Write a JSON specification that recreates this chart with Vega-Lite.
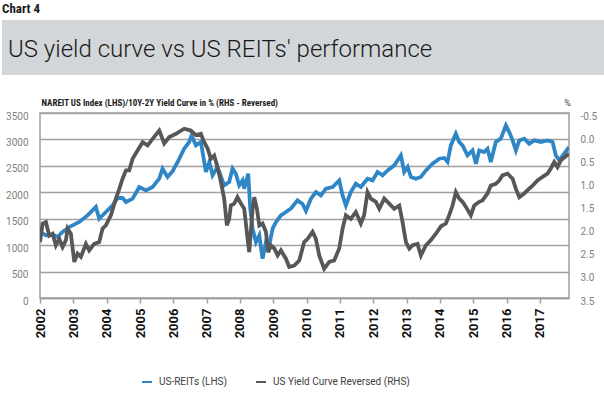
{
  "$schema": "https://vega.github.io/schema/vega-lite/v6.json",
  "padding": {"left": 2, "top": 3, "right": 0, "bottom": 0},
  "background": "white",
  "title": {"text": "Chart 4", "anchor": "start", "fontSize": 13, "fontWeight": "bold", "font": "Liberation Sans Narrow, Roboto Condensed, Roboto", "color": "#1a1a1a", "offset": 4},
  "spacing": 22,
  "datasets": {
    "reits": [
      {"date": "2002-01-01", "value": 1250}, {"date": "2002-03-07", "value": 1185}, {"date": "2002-05-19", "value": 1200}, {"date": "2002-07-12", "value": 1154},
      {"date": "2002-09-05", "value": 1250}, {"date": "2002-11-17", "value": 1343}, {"date": "2003-03-07", "value": 1438}, {"date": "2003-06-06", "value": 1563},
      {"date": "2003-09-05", "value": 1722}, {"date": "2003-10-12", "value": 1500}, {"date": "2003-12-24", "value": 1627}, {"date": "2004-03-07", "value": 1752},
      {"date": "2004-04-30", "value": 1892}, {"date": "2004-06-24", "value": 1892}, {"date": "2004-07-31", "value": 1816}, {"date": "2004-10-12", "value": 1879},
      {"date": "2004-12-24", "value": 2100}, {"date": "2005-03-07", "value": 2036}, {"date": "2005-05-19", "value": 2100}, {"date": "2005-07-31", "value": 2257},
      {"date": "2005-09-05", "value": 2446}, {"date": "2005-10-30", "value": 2289}, {"date": "2005-12-24", "value": 2400}, {"date": "2006-02-17", "value": 2573},
      {"date": "2006-04-30", "value": 2825}, {"date": "2006-06-24", "value": 2952}, {"date": "2006-07-20", "value": 3076}, {"date": "2006-09-05", "value": 2887},
      {"date": "2006-10-30", "value": 2952}, {"date": "2006-12-24", "value": 2384}, {"date": "2007-01-30", "value": 2573}, {"date": "2007-03-07", "value": 2320},
      {"date": "2007-04-30", "value": 2478}, {"date": "2007-07-12", "value": 2130}, {"date": "2007-09-05", "value": 2195}, {"date": "2007-10-12", "value": 2446},
      {"date": "2007-11-17", "value": 2352}, {"date": "2007-12-24", "value": 2130}, {"date": "2008-01-30", "value": 2225}, {"date": "2008-02-17", "value": 2068},
      {"date": "2008-04-01", "value": 2352}, {"date": "2008-04-23", "value": 1690}, {"date": "2008-05-19", "value": 1311}, {"date": "2008-06-24", "value": 1059},
      {"date": "2008-07-31", "value": 1185}, {"date": "2008-09-05", "value": 744}, {"date": "2008-10-12", "value": 1059}, {"date": "2008-11-17", "value": 996},
      {"date": "2008-12-24", "value": 1311}, {"date": "2009-01-30", "value": 1438}, {"date": "2009-03-25", "value": 1563}, {"date": "2009-05-19", "value": 1627},
      {"date": "2009-07-12", "value": 1690}, {"date": "2009-09-23", "value": 1847}, {"date": "2009-11-17", "value": 1780}, {"date": "2009-12-24", "value": 1650},
      {"date": "2010-02-17", "value": 1879}, {"date": "2010-04-12", "value": 2005}, {"date": "2010-06-06", "value": 1941}, {"date": "2010-07-31", "value": 2068},
      {"date": "2010-10-12", "value": 2100}, {"date": "2010-12-24", "value": 2225}, {"date": "2011-01-30", "value": 1941}, {"date": "2011-03-07", "value": 1752},
      {"date": "2011-04-30", "value": 2005}, {"date": "2011-06-24", "value": 2162}, {"date": "2011-08-18", "value": 2100}, {"date": "2011-10-30", "value": 2257},
      {"date": "2011-12-24", "value": 2225}, {"date": "2012-02-17", "value": 2384}, {"date": "2012-04-12", "value": 2320}, {"date": "2012-06-06", "value": 2414},
      {"date": "2012-08-18", "value": 2509}, {"date": "2012-10-30", "value": 2698}, {"date": "2012-12-05", "value": 2384}, {"date": "2013-01-12", "value": 2478},
      {"date": "2013-02-17", "value": 2289}, {"date": "2013-04-12", "value": 2257}, {"date": "2013-06-06", "value": 2289}, {"date": "2013-07-31", "value": 2414},
      {"date": "2013-10-12", "value": 2541}, {"date": "2013-12-24", "value": 2635}, {"date": "2014-02-17", "value": 2650}, {"date": "2014-03-25", "value": 2573},
      {"date": "2014-04-30", "value": 2887}, {"date": "2014-06-24", "value": 3108}, {"date": "2014-07-31", "value": 2952}, {"date": "2014-09-05", "value": 2887},
      {"date": "2014-10-30", "value": 2698}, {"date": "2014-12-24", "value": 2793}, {"date": "2015-01-30", "value": 2541}, {"date": "2015-03-07", "value": 2793},
      {"date": "2015-04-30", "value": 2762}, {"date": "2015-06-06", "value": 2825}, {"date": "2015-07-12", "value": 2573}, {"date": "2015-09-05", "value": 2952},
      {"date": "2015-10-30", "value": 3014}, {"date": "2015-12-24", "value": 3266}, {"date": "2016-01-30", "value": 3140}, {"date": "2016-03-07", "value": 2982},
      {"date": "2016-04-12", "value": 2793}, {"date": "2016-05-19", "value": 2982}, {"date": "2016-07-12", "value": 3014}, {"date": "2016-09-05", "value": 2919},
      {"date": "2016-10-30", "value": 2982}, {"date": "2017-01-12", "value": 2952}, {"date": "2017-03-25", "value": 2982}, {"date": "2017-05-19", "value": 2952},
      {"date": "2017-06-24", "value": 2698}, {"date": "2017-07-31", "value": 2604}, {"date": "2017-09-23", "value": 2730}, {"date": "2017-11-15", "value": 2857}
    ],
    "curve": [
      {"date": "2002-01-01", "spread": 2.29}, {"date": "2002-01-30", "spread": 1.89}, {"date": "2002-03-07", "spread": 1.86}, {"date": "2002-04-12", "spread": 2.15},
      {"date": "2002-05-19", "spread": 2.11}, {"date": "2002-06-24", "spread": 2.36}, {"date": "2002-07-31", "spread": 2.22}, {"date": "2002-09-05", "spread": 2.40},
      {"date": "2002-10-12", "spread": 2.25}, {"date": "2002-10-30", "spread": 2.00}, {"date": "2002-12-05", "spread": 2.11}, {"date": "2003-01-12", "spread": 2.72},
      {"date": "2003-02-17", "spread": 2.54}, {"date": "2003-03-25", "spread": 2.61}, {"date": "2003-05-19", "spread": 2.33}, {"date": "2003-06-24", "spread": 2.47},
      {"date": "2003-08-18", "spread": 2.33}, {"date": "2003-10-12", "spread": 2.29}, {"date": "2003-11-17", "spread": 2.00}, {"date": "2003-12-24", "spread": 1.93},
      {"date": "2004-02-17", "spread": 1.71}, {"date": "2004-04-12", "spread": 1.35}, {"date": "2004-05-19", "spread": 1.14}, {"date": "2004-06-24", "spread": 0.92},
      {"date": "2004-07-31", "spread": 0.74}, {"date": "2004-09-05", "spread": 0.74}, {"date": "2004-10-12", "spread": 0.49}, {"date": "2004-12-05", "spread": 0.31},
      {"date": "2005-01-30", "spread": 0.13}, {"date": "2005-03-25", "spread": 0.20}, {"date": "2005-05-19", "spread": 0.06}, {"date": "2005-07-31", "spread": -0.12},
      {"date": "2005-09-23", "spread": 0.16}, {"date": "2005-11-17", "spread": 0.02}, {"date": "2006-01-30", "spread": -0.05}, {"date": "2006-04-30", "spread": -0.16},
      {"date": "2006-07-12", "spread": -0.12}, {"date": "2006-09-05", "spread": -0.02}, {"date": "2006-10-30", "spread": -0.05}, {"date": "2006-12-05", "spread": 0.13},
      {"date": "2007-01-12", "spread": 0.27}, {"date": "2007-02-17", "spread": 0.49}, {"date": "2007-03-25", "spread": 0.42}, {"date": "2007-04-30", "spread": 0.67},
      {"date": "2007-06-06", "spread": 0.99}, {"date": "2007-07-12", "spread": 1.35}, {"date": "2007-08-11", "spread": 1.93}, {"date": "2007-09-05", "spread": 1.79},
      {"date": "2007-09-23", "spread": 1.50}, {"date": "2007-10-30", "spread": 1.46}, {"date": "2007-12-05", "spread": 1.32}, {"date": "2008-01-12", "spread": 1.46},
      {"date": "2008-02-17", "spread": 1.57}, {"date": "2008-03-25", "spread": 2.22}, {"date": "2008-04-12", "spread": 2.51}, {"date": "2008-05-19", "spread": 1.57},
      {"date": "2008-06-06", "spread": 1.32}, {"date": "2008-07-05", "spread": 1.57}, {"date": "2008-07-31", "spread": 1.93}, {"date": "2008-09-05", "spread": 1.89},
      {"date": "2008-10-12", "spread": 2.07}, {"date": "2008-11-06", "spread": 2.51}, {"date": "2008-12-05", "spread": 2.36}, {"date": "2009-01-12", "spread": 2.43},
      {"date": "2009-02-17", "spread": 2.58}, {"date": "2009-03-25", "spread": 2.47}, {"date": "2009-05-19", "spread": 2.65}, {"date": "2009-06-24", "spread": 2.83},
      {"date": "2009-08-18", "spread": 2.80}, {"date": "2009-10-12", "spread": 2.69}, {"date": "2009-12-05", "spread": 2.29}, {"date": "2010-01-12", "spread": 2.22},
      {"date": "2010-03-07", "spread": 2.07}, {"date": "2010-04-12", "spread": 2.22}, {"date": "2010-05-19", "spread": 2.58}, {"date": "2010-07-12", "spread": 2.87},
      {"date": "2010-09-05", "spread": 2.72}, {"date": "2010-10-30", "spread": 2.69}, {"date": "2010-12-24", "spread": 2.43}, {"date": "2011-01-30", "spread": 2.00},
      {"date": "2011-03-07", "spread": 1.71}, {"date": "2011-04-30", "spread": 1.79}, {"date": "2011-06-24", "spread": 1.64}, {"date": "2011-08-18", "spread": 1.89},
      {"date": "2011-09-23", "spread": 1.71}, {"date": "2011-10-30", "spread": 1.21}, {"date": "2011-12-05", "spread": 1.35}, {"date": "2012-01-30", "spread": 1.42},
      {"date": "2012-03-07", "spread": 1.57}, {"date": "2012-04-30", "spread": 1.35}, {"date": "2012-06-24", "spread": 1.46}, {"date": "2012-08-18", "spread": 1.57},
      {"date": "2012-10-12", "spread": 1.50}, {"date": "2012-11-17", "spread": 1.86}, {"date": "2012-12-24", "spread": 2.29}, {"date": "2013-01-30", "spread": 2.43},
      {"date": "2013-03-07", "spread": 2.36}, {"date": "2013-04-30", "spread": 2.33}, {"date": "2013-06-06", "spread": 2.58}, {"date": "2013-07-31", "spread": 2.36},
      {"date": "2013-09-23", "spread": 2.25}, {"date": "2013-11-17", "spread": 2.11}, {"date": "2014-01-12", "spread": 1.95}, {"date": "2014-03-07", "spread": 1.89},
      {"date": "2014-04-12", "spread": 1.71}, {"date": "2014-05-19", "spread": 1.50}, {"date": "2014-06-24", "spread": 1.21}, {"date": "2014-07-31", "spread": 1.35},
      {"date": "2014-09-05", "spread": 1.42}, {"date": "2014-10-12", "spread": 1.53}, {"date": "2014-12-05", "spread": 1.71}, {"date": "2015-01-12", "spread": 1.50},
      {"date": "2015-03-07", "spread": 1.42}, {"date": "2015-04-12", "spread": 1.39}, {"date": "2015-06-06", "spread": 1.24}, {"date": "2015-07-12", "spread": 1.07},
      {"date": "2015-09-05", "spread": 1.03}, {"date": "2015-10-12", "spread": 0.96}, {"date": "2015-11-17", "spread": 0.85}, {"date": "2016-01-12", "spread": 0.81},
      {"date": "2016-03-07", "spread": 0.92}, {"date": "2016-04-12", "spread": 1.14}, {"date": "2016-05-19", "spread": 1.32}, {"date": "2016-07-12", "spread": 1.24},
      {"date": "2016-08-18", "spread": 1.17}, {"date": "2016-10-12", "spread": 1.07}, {"date": "2016-12-05", "spread": 0.96}, {"date": "2017-01-30", "spread": 0.88},
      {"date": "2017-03-25", "spread": 0.81}, {"date": "2017-04-30", "spread": 0.70}, {"date": "2017-06-06", "spread": 0.56}, {"date": "2017-07-12", "spread": 0.67},
      {"date": "2017-08-18", "spread": 0.52}, {"date": "2017-10-01", "spread": 0.45}, {"date": "2017-11-15", "spread": 0.38}
    ]
  },
  "vconcat": [
    {
      "width": 602,
      "height": 55,
      "view": {"fill": "#d3d6d9", "stroke": null},
      "data": {"values": [{"label": "US yield curve vs US REITs' performance"}]},
      "mark": {"type": "text", "align": "left", "baseline": "middle", "dx": -295, "dy": 2, "font": "Roboto", "fontSize": 24, "fontWeight": 300, "color": "#1a1a1a"},
      "encoding": {"text": {"field": "label"}}
    },
    {
      "spacing": 0,
      "hconcat": [
        {
          "width": 1,
          "height": 1,
          "view": {"stroke": null, "fill": null},
          "data": {"values": [{"label": ""}]},
          "mark": {"type": "text", "opacity": 0},
          "encoding": {"text": {"field": "label"}}
        },
        {
          "width": 529,
          "height": 185,
          "encoding": {
            "x": {
              "field": "date", "type": "temporal",
              "scale": {"type": "utc", "domain": [1009843200000, 1510704000000]},
              "axis": {
                "title": null, "format": "%Y", "labelAngle": -90, "grid": false,
                "values": [1009843200000, 1041379200000, 1072915200000, 1104537600000, 1136073600000, 1167609600000, 1199145600000, 1230768000000, 1262304000000, 1293840000000, 1325376000000, 1356998400000, 1388534400000, 1420070400000, 1451606400000, 1483228800000],
                "labelFont": "Roboto", "labelFontSize": 13, "labelFontWeight": "bold", "labelColor": "#111111",
                "labelPadding": 5, "tickSize": 5, "tickColor": "#a0a0a0", "tickWidth": 1.5, "domainColor": "#a0a0a0", "domainWidth": 1.5,
                "labelOverlap": false, "labelFlush": false
              }
            }
          },
          "layer": [
            {
              "data": {"name": "reits"},
              "mark": {"type": "line", "strokeWidth": 3.8, "clip": true},
              "encoding": {
                "y": {
                  "field": "value", "type": "quantitative",
                  "scale": {"domain": [0, 3500], "nice": false},
                  "axis": {
                    "values": [0, 500, 1000, 1500, 2000, 2500, 3000, 3500], "format": "d", "grid": true, "gridColor": "#a0a0a0", "gridWidth": 1.5,
                    "domain": false, "ticks": false, "labelPadding": 12, "labelOffset": 3, "labelFont": "Roboto", "labelFontSize": 10, "labelColor": "#7f7f7f",
                    "minExtent": 36, "maxExtent": 36,
                    "title": "NAREIT US Index (LHS)/10Y-2Y Yield Curve in % (RHS - Reversed)", "titleAngle": 0, "titleAlign": "left", "titleBaseline": "middle",
                    "titleX": 1, "titleY": -11, "titleFont": "Liberation Sans Narrow, Roboto Condensed, Roboto", "titleFontSize": 9, "titleFontWeight": "bold", "titleColor": "#1a1a1a"
                  }
                },
                "color": {
                  "datum": "US-REITs (LHS)",
                  "scale": {"domain": ["US-REITs (LHS)", "US Yield Curve Reversed (RHS)"], "range": ["#2f86c6", "#575757"]},
                  "legend": {
                    "orient": "none", "legendX": 139, "legendY": 356, "direction": "horizontal", "title": null,
                    "symbolType": "stroke", "symbolSize": 100, "symbolStrokeWidth": 2, "labelFont": "Roboto", "labelFontSize": 10, "labelColor": "#404040",
                    "labelOffset": 6, "columnPadding": 24, "padding": 0
                  }
                }
              }
            },
            {
              "data": {"name": "curve"},
              "mark": {"type": "line", "strokeWidth": 3.8, "clip": true},
              "encoding": {
                "y": {
                  "field": "spread", "type": "quantitative",
                  "scale": {"domain": [-0.5, 3.5], "nice": false, "reverse": true},
                  "axis": {
                    "orient": "right", "values": [-0.5, 0, 0.5, 1, 1.5, 2, 2.5, 3, 3.5], "grid": false, "domain": false, "ticks": false,
                    "labelExpr": "replace(format(datum.value, '.1f'), '\u2212', '-')",
                    "labelPadding": 11, "labelOffset": 3, "labelFont": "Roboto", "labelFontSize": 10, "labelColor": "#7f7f7f",
                    "title": "%", "titleAngle": 0, "titleX": -2, "titleY": -11, "titleAlign": "center", "titleBaseline": "middle",
                    "titleFont": "Roboto", "titleFontSize": 9, "titleFontWeight": "normal", "titleColor": "#444444"
                  }
                },
                "color": {"datum": "US Yield Curve Reversed (RHS)"}
              }
            }
          ],
          "resolve": {"scale": {"y": "independent"}}
        }
      ]
    }
  ],
  "config": {
    "view": {"stroke": "#a0a0a0", "strokeWidth": 1.5},
    "font": "Roboto"
  }
}
